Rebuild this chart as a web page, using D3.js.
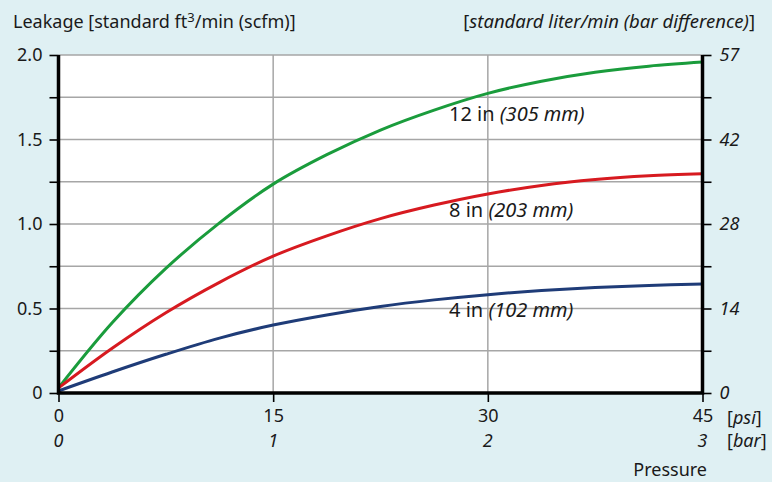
<!DOCTYPE html>
<html>
<head>
<meta charset="utf-8">
<script src="https://cdn.jsdelivr.net/npm/d3@7"></script>
<style>
  body { margin: 0; background: #dff0f3; }
  svg { display: block; font-family: "Noto Sans", sans-serif; }
  .grid line { stroke: #a6a6a6; stroke-width: 1.5; }
  .tick text { fill: #1a1a1a; }
</style>
</head>
<body>
<div id="chart"></div>
<script>
// values
var psi = [0, 3.75, 7.5, 11.25, 15, 18.75, 22.5, 26.25, 30, 33.75, 37.5, 41.25, 45];
var leak12 = [0.03, 0.415, 0.737, 1.007, 1.236, 1.41, 1.556, 1.674, 1.773, 1.845, 1.898, 1.934, 1.958];
var leak8 = [0.03, 0.265, 0.475, 0.655, 0.81, 0.93, 1.032, 1.112, 1.178, 1.228, 1.263, 1.285, 1.297];
var leak4 = [0.012, 0.124, 0.229, 0.325, 0.402, 0.462, 0.512, 0.551, 0.582, 0.606, 0.624, 0.636, 0.645];
var seriesNames = ["12 in ", "8 in ", "4 in "];
var seriesMetric = ["(305 mm)", "(203 mm)", "(102 mm)"];
var seriesColors = ["#1a9c3c", "#d71a20", "#1f3c78"];

var leftTicks = [0, 0.5, 1, 1.5, 2];
var leftTickLabels = ["0", "0.5", "1.0", "1.5", "2.0"];
var rightTickLabels = ["0", "14", "28", "42", "57"];
var psiTicks = [0, 15, 30, 45];
var barTickLabels = ["0", "1", "2", "3"];

var width = 772;
var height = 482;
var plotLeft = 58.5, plotRight = 702.5, plotTop = 55, plotBottom = 393;

var svg = d3
  .select("#chart")
  .append("svg")
  .attr("width", width)
  .attr("height", height);

var xScale = d3.scaleLinear().domain([0, 45]).range([plotLeft, plotRight]);
var yScale = d3.scaleLinear().domain([0, 2]).range([plotBottom, plotTop]);

// plot background
svg.append("rect")
  .attr("x", plotLeft)
  .attr("y", plotTop)
  .attr("width", plotRight - plotLeft)
  .attr("height", plotBottom - plotTop)
  .attr("fill", "#fff");

var minorTicks = d3.range(0, 2.01, 0.25);

// grid
var grid = svg.append("g").attr("class", "grid");
grid.selectAll(".hg")
  .data(minorTicks)
  .enter()
  .append("line")
  .attr("x1", plotLeft)
  .attr("x2", plotRight)
  .attr("y1", function(d) { return yScale(d); })
  .attr("y2", function(d) { return yScale(d); });
grid.selectAll(".vg")
  .data(psiTicks.slice(1, 3))
  .enter()
  .append("line")
  .attr("x1", function(d) { return xScale(d); })
  .attr("x2", function(d) { return xScale(d); })
  .attr("y1", plotTop)
  .attr("y2", plotBottom);

// left axis
var yAxisLeft = d3.axisLeft(yScale)
  .tickValues(minorTicks)
  .tickSize(9)
  .tickPadding(7)
  .tickFormat(function(d) {
    var i = leftTicks.indexOf(d);
    return i >= 0 ? leftTickLabels[i] : "";
  });
var gl = svg.append("g")
  .attr("transform", "translate(" + plotLeft + ",0)")
  .call(yAxisLeft);

// right axis
var yAxisRight = d3.axisRight(yScale)
  .tickValues(minorTicks)
  .tickSize(9)
  .tickPadding(8)
  .tickFormat(function(d) {
    var i = leftTicks.indexOf(d);
    return i >= 0 ? rightTickLabels[i] : "";
  });
var gr = svg.append("g")
  .attr("transform", "translate(" + plotRight + ",0)")
  .call(yAxisRight);
gr.selectAll("text").style("font-style", "italic");

// bottom axis
var xAxis = d3.axisBottom(xScale)
  .tickValues(psiTicks)
  .tickSize(9)
  .tickPadding(7)
  .tickFormat(d3.format("d"));
var gx = svg.append("g")
  .attr("transform", "translate(0," + plotBottom + ")")
  .call(xAxis);

[gl, gr, gx].forEach(function(g) {
  g.select(".domain").remove();
  g.selectAll(".tick line").attr("stroke", "#000").attr("stroke-width", 1.6);
  g.selectAll("text").attr("font-size", 18).attr("font-family", "Noto Sans");
});

// bar labels under psi
svg.selectAll(".barLabel")
  .data(psiTicks)
  .enter()
  .append("text")
  .attr("x", function(d) { return xScale(d); })
  .attr("y", 447)
  .attr("text-anchor", "middle")
  .attr("font-size", 18)
  .attr("font-style", "italic")
  .attr("fill", "#1a1a1a")
  .text(function(d, i) { return barTickLabels[i]; });

// unit labels
var unitPsi = svg.append("text")
  .attr("x", 727).attr("y", 424)
  .attr("font-size", 18).attr("fill", "#1a1a1a");
unitPsi.append("tspan").text("[");
unitPsi.append("tspan").attr("font-style", "italic").text("psi");
unitPsi.append("tspan").text("]");

var unitBar = svg.append("text")
  .attr("x", 727).attr("y", 447)
  .attr("font-size", 18).attr("fill", "#1a1a1a");
unitBar.append("tspan").text("[");
unitBar.append("tspan").attr("font-style", "italic").text("bar");
unitBar.append("tspan").text("]");

svg.append("text")
  .attr("x", 707).attr("y", 476)
  .attr("text-anchor", "end")
  .attr("font-size", 18).attr("fill", "#1a1a1a")
  .text("Pressure");

// titles
var titleLeft = svg.append("text")
  .attr("x", 13).attr("y", 28)
  .attr("font-size", 18).attr("fill", "#1a1a1a");
titleLeft.append("tspan").text("Leakage [standard ft");
titleLeft.append("tspan").attr("font-size", 13).attr("dy", -6).text("3");
titleLeft.append("tspan").attr("dy", 6).text("/min (scfm)]");

var titleRight = svg.append("text")
  .attr("x", 755).attr("y", 28)
  .attr("text-anchor", "end")
  .attr("font-size", 18.5).attr("fill", "#1a1a1a");
titleRight.append("tspan").text("[");
titleRight.append("tspan").attr("font-style", "italic").text("standard liter/min (bar difference)");
titleRight.append("tspan").text("]");

// curves
var line = d3.line()
  .x(function(d) { return xScale(d[0]); })
  .y(function(d) { return yScale(d[1]); })
  .curve(d3.curveCatmullRom.alpha(0.5));

var allSeries = [leak12, leak8, leak4];
allSeries.forEach(function(vals, i) {
  svg.append("path")
    .datum(psi.map(function(p, j) { return [p, vals[j]]; }))
    .attr("fill", "none")
    .attr("stroke", seriesColors[i])
    .attr("stroke-width", 3)
    .attr("d", line);
});

// axis lines on top
svg.append("path")
  .attr("d", "M" + plotLeft + "," + plotTop + "V" + plotBottom + "H" + plotRight + "V" + plotTop)
  .attr("fill", "none")
  .attr("stroke", "#000")
  .attr("stroke-width", 3.5);

// series labels
var labelY = [121, 217, 317];
seriesNames.forEach(function(n, i) {
  var t = svg.append("text")
    .attr("x", 449)
    .attr("y", labelY[i])
    .attr("font-size", 20)
    .attr("fill", "#1a1a1a");
  t.append("tspan").text(n);
  t.append("tspan").attr("font-style", "italic").text(seriesMetric[i]);
});
</script>
</body>
</html>
